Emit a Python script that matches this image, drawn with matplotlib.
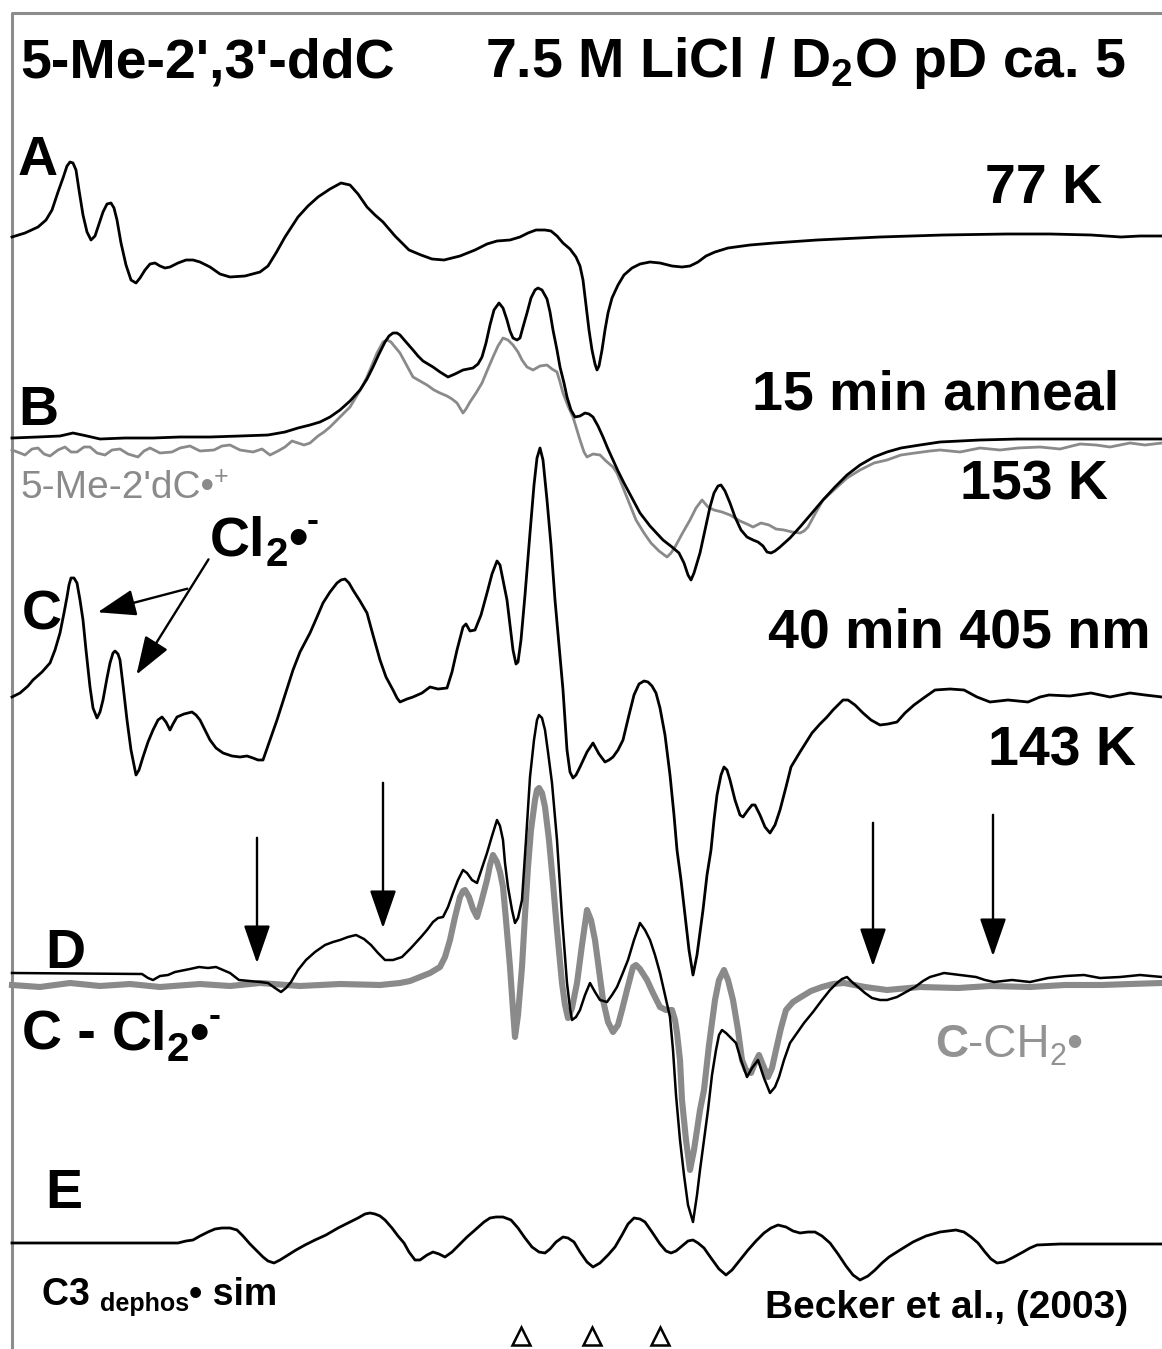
import numpy as np
import matplotlib
matplotlib.use("Agg")
import matplotlib.pyplot as plt

plt.rcParams['font.family'] = ['Liberation Sans', 'DejaVu Sans']
plt.rcParams['mathtext.fontset'] = 'custom'
plt.rcParams['mathtext.rm'] = 'Liberation Sans:bold'
plt.rcParams['mathtext.bf'] = 'Liberation Sans:bold'
plt.rcParams['mathtext.sf'] = 'Liberation Sans'

# --- traced spectra (x = field position, y = panel position, picture units) ---
a_x = [12, 25, 38, 46, 52, 58, 63, 67, 70, 73, 76, 79, 83, 87, 91, 95, 99, 103, 107, 111, 114, 117, 121,
       126, 131, 136, 140, 145, 150, 155, 160, 165, 170, 178, 186, 193, 200, 210, 220, 230, 245, 260, 268,
       276, 285, 298, 308, 318, 330, 341, 350, 358, 367, 375, 383, 395, 409, 421, 432, 444, 460, 475, 487,
       497, 510, 520, 528, 536, 545, 551, 557, 563, 570, 576, 580, 583, 586, 589, 592, 595, 597, 599, 602,
       605, 608, 612, 618, 624, 632, 640, 650, 660, 672, 682, 690, 698, 706, 715, 728, 750, 774, 817, 880,
       943, 1007, 1050, 1091, 1121, 1140, 1162]
a_y = [237, 233, 227, 220, 210, 192, 178, 166, 162, 163, 170, 190, 215, 232, 240, 236, 224, 212, 204, 203,
       208, 220, 243, 265, 280, 283, 278, 270, 264, 263, 266, 268, 267, 263, 260, 260, 262, 267, 274, 277,
       276, 272, 266, 253, 237, 217, 206, 197, 189, 183, 185, 194, 207, 215, 222, 236, 250, 255, 259, 260,
       256, 250, 244, 241, 240, 237, 233, 230, 230, 231, 236, 243, 249, 257, 266, 280, 305, 330, 350, 364,
       370, 366, 350, 330, 313, 298, 285, 275, 268, 264, 262, 263, 266, 267, 266, 262, 256, 252, 248, 245,
       243, 240, 237, 235, 234, 234, 235, 237, 236, 236]

b_x = [12, 38, 60, 73, 87, 100, 125, 153, 180, 210, 240, 268, 285, 298, 310, 320, 330, 340, 350, 360, 367,
       373, 379, 385, 389, 393, 397, 400, 406, 413, 418, 423, 433, 440, 448, 455, 463, 473, 478, 482, 486,
       490, 494, 499, 503, 507, 510, 513, 517, 520, 523, 527, 531, 535, 538, 542, 547, 550, 553, 557, 560,
       564, 567, 571, 575, 580, 585, 589, 593, 598, 603, 608, 613, 618, 624, 632, 640, 650, 663, 672, 679,
       684, 688, 691, 694, 697, 700, 705, 710, 714, 718, 721, 725, 730, 735, 741, 747, 753, 758, 763, 767,
       771, 775, 780, 790, 800, 812, 823, 835, 847, 860, 874, 887, 901, 920, 940, 980, 1018, 1100, 1162]
b_y = [438, 437, 436, 433, 436, 439, 438, 438, 437, 437, 436, 435, 432, 428, 425, 422, 417, 410, 401, 390,
       379, 367, 354, 342, 336, 333, 333, 335, 342, 350, 356, 361, 367, 372, 377, 374, 370, 368, 364, 357,
       343, 325, 310, 303, 308, 320, 331, 338, 340, 338, 327, 313, 298, 290, 288, 290, 299, 312, 330, 350,
       367, 383, 397, 410, 417, 416, 413, 414, 417, 426, 437, 449, 460, 471, 483, 498, 513, 526, 540, 547,
       553, 563, 575, 580, 573, 563, 553, 530, 507, 493, 486, 485, 491, 503, 517, 530, 537, 540, 542, 546,
       552, 553, 551, 547, 538, 527, 513, 500, 487, 475, 465, 457, 452, 448, 445, 442, 440, 439, 439, 439]

bref_x = [12, 20, 25, 32, 38, 44, 50, 58, 65, 71, 77, 84, 90, 97, 105, 112, 120, 128, 138, 144, 150, 160,
          172, 180, 190, 200, 214, 222, 230, 240, 253, 262, 270, 278, 285, 292, 298, 304, 310, 318, 324, 330,
          337, 343, 350, 356, 362, 367, 372, 377, 383, 387, 391, 395, 400, 406, 413, 420, 427, 434, 440, 447,
          452, 457, 460, 463, 466, 470, 476, 482, 487, 493, 498, 503, 508, 513, 518, 522, 527, 533, 540, 547,
          552, 557, 560, 563, 568, 573, 577, 580, 584, 587, 593, 600, 606, 613, 617, 620, 628, 636, 644, 651,
          659, 667, 671, 675, 682, 690, 696, 702, 708, 714, 722, 730, 740, 747, 753, 761, 769, 776, 784, 792,
          800, 804, 808, 815, 823, 835, 847, 860, 874, 887, 901, 915, 930, 940, 960, 980, 1000, 1018, 1040,
          1060, 1080, 1096, 1110, 1130, 1145, 1162]
bref_y = [450, 453, 455, 449, 448, 454, 456, 450, 447, 452, 452, 447, 447, 453, 455, 450, 449, 454, 457, 451,
          448, 453, 452, 448, 446, 451, 450, 446, 445, 450, 452, 449, 455, 451, 447, 441, 443, 445, 443, 436,
          432, 427, 420, 414, 407, 397, 387, 377, 365, 353, 342, 340, 342, 347, 353, 364, 377, 381, 385, 390,
          393, 396, 399, 403, 408, 413, 409, 402, 393, 383, 371, 357, 346, 338, 340, 345, 352, 360, 367, 370,
          366, 365, 369, 372, 382, 393, 406, 417, 430, 440, 452, 457, 454, 455, 461, 467, 473, 480, 500, 520,
          533, 543, 551, 557, 553, 547, 534, 520, 508, 500, 507, 510, 512, 515, 521, 524, 527, 523, 525, 529,
          530, 532, 533, 531, 527, 514, 500, 489, 478, 470, 463, 460, 455, 453, 451, 450, 452, 448, 450, 448,
          447, 449, 444, 445, 447, 443, 445, 443]

c_x = [12, 20, 28, 33, 42, 50, 55, 60, 64, 67, 69, 71, 74, 77, 80, 83, 86, 90, 93, 97, 100, 103, 107, 110,
       113, 115, 118, 120, 123, 127, 131, 136, 139, 143, 148, 153, 158, 162, 166, 170, 173, 177, 184, 192,
       196, 200, 205, 210, 216, 223, 232, 240, 247, 253, 258, 263, 270, 277, 285, 293, 300, 310, 317, 323,
       330, 337, 341, 345, 349, 353, 360, 367, 373, 380, 386, 393, 397, 400, 407, 413, 422, 430, 438, 447,
       452, 457, 463, 466, 470, 475, 481, 487, 492, 497, 500, 504, 507, 510, 513, 516, 518, 521, 525, 530,
       534, 537, 540, 543, 547, 551, 555, 559, 563, 567, 570, 573, 576, 580, 587, 593, 599, 605, 609, 613,
       618, 623, 629, 634, 639, 644, 648, 652, 656, 660, 665, 670, 674, 677, 681, 685, 689, 693, 697, 703,
       707, 711, 714, 717, 721, 724, 727, 730, 735, 740, 743, 748, 752, 755, 760, 765, 770, 775, 780, 786,
       791, 800, 812, 820, 827, 833, 838, 843, 848, 855, 863, 871, 880, 888, 897, 905, 914, 925, 935, 950,
       964, 977, 990, 1008, 1028, 1040, 1049, 1070, 1091, 1110, 1130, 1145, 1162]
c_y = [697, 693, 686, 680, 672, 663, 650, 633, 613, 597, 585, 578, 578, 583, 600, 620, 650, 687, 708, 718,
       712, 700, 678, 663, 653, 651, 654, 660, 685, 720, 750, 775, 770, 757, 742, 730, 720, 717, 722, 730,
       724, 717, 714, 712, 715, 720, 730, 740, 748, 753, 756, 757, 756, 758, 760, 760, 740, 720, 695, 670,
       652, 633, 617, 603, 592, 583, 580, 579, 583, 590, 601, 613, 635, 660, 677, 690, 698, 702, 699, 697,
       693, 687, 689, 688, 672, 650, 627, 624, 631, 630, 615, 593, 574, 561, 565, 585, 600, 625, 650, 664,
       662, 640, 595, 533, 485, 458, 448, 460, 500, 545, 600, 645, 690, 750, 772, 778, 775, 767, 752, 743,
       754, 762, 760, 757, 750, 740, 715, 695, 684, 681, 682, 686, 693, 708, 735, 775, 815, 850, 880, 915,
       950, 975, 955, 910, 875, 850, 820, 795, 775, 767, 770, 780, 800, 815, 817, 810, 805, 805, 815, 827,
       833, 825, 810, 787, 767, 752, 733, 724, 717, 710, 705, 700, 700, 705, 713, 720, 725, 724, 722, 713,
       705, 697, 690, 689, 690, 697, 702, 700, 702, 697, 695, 696, 693, 697, 693, 695, 697]

d_x = [12, 142, 148, 153, 160, 168, 175, 180, 190, 199, 208, 216, 223, 230, 239, 250, 260, 268, 275, 281,
       286, 291, 298, 306, 315, 325, 333, 340, 348, 356, 364, 371, 378, 385, 393, 402, 411, 421, 427, 433,
       438, 443, 448, 453, 458, 463, 467, 472, 477, 482, 487, 492, 497, 500, 503, 505, 508, 512, 515, 518,
       522, 526, 530, 534, 537, 539, 542, 545, 548, 552, 557, 562, 567, 570, 572, 576, 580, 585, 590, 595,
       600, 607, 612, 617, 622, 628, 634, 640, 645, 650, 655, 660, 665, 670, 673, 676, 680, 684, 688, 693,
       697, 700, 704, 708, 712, 716, 719, 722, 726, 731, 736, 741, 747, 752, 758, 764, 770, 775, 779, 784,
       790, 797, 804, 813, 822, 830, 837, 842, 847, 852, 858, 865, 872, 880, 887, 897, 906, 915, 923, 930,
       937, 944, 960, 976, 985, 994, 1012, 1030, 1048, 1066, 1084, 1100, 1120, 1140, 1162]
d_y = [973, 974, 978, 980, 976, 975, 972, 971, 969, 967, 968, 967, 970, 973, 980, 981, 982, 983, 988, 992,
       988, 982, 970, 960, 952, 945, 942, 940, 937, 935, 939, 945, 953, 960, 960, 957, 948, 937, 930, 922,
       918, 917, 907, 893, 880, 870, 873, 880, 883, 868, 853, 836, 820, 826, 840, 863, 887, 910, 923, 918,
       900, 840, 777, 740, 720, 715, 718, 730, 752, 783, 840, 917, 983, 1008, 1020, 1017, 1010, 995, 983, 992,
       1000, 1002, 995, 987, 975, 960, 940, 923, 930, 940, 955, 973, 995, 1017, 1050, 1095, 1140, 1175, 1205,
       1222, 1195, 1170, 1140, 1110, 1075, 1050, 1035, 1030, 1033, 1038, 1043, 1060, 1077, 1068, 1060, 1078,
       1093, 1087, 1077, 1060, 1043, 1033, 1023, 1012, 1000, 990, 983, 979, 977, 982, 987, 993, 998, 1000,
       1000, 997, 992, 987, 981, 977, 975, 973, 975, 977, 980, 982, 980, 982, 978, 976, 975, 978, 977, 975, 977]

dsim_x = [12, 40, 70, 100, 130, 160, 200, 230, 260, 300, 340, 380, 400, 410, 420, 430, 440, 445, 450, 455,
          460, 463, 465, 469, 473, 477, 481, 487, 490, 493, 497, 500, 503, 506, 510, 513, 515, 518, 522, 525,
          528, 531, 535, 537, 539, 542, 545, 549, 553, 557, 562, 565, 568, 572, 577, 582, 587, 591, 595, 599,
          603, 608, 613, 618, 622, 627, 633, 636, 640, 647, 653, 660, 666, 672, 675, 677, 680, 682, 686, 690,
          694, 697, 700, 704, 709, 715, 719, 724, 728, 733, 738, 742, 746, 751, 755, 759, 763, 768, 772, 776,
          781, 786, 793, 801, 811, 822, 833, 844, 865, 887, 920, 958, 990, 1030, 1065, 1102, 1130, 1162]
dsim_y = [985, 987, 983, 986, 984, 987, 984, 986, 983, 986, 984, 985, 983, 981, 977, 973, 967, 957, 940, 917,
          897, 891, 890, 897, 909, 917, 903, 880, 865, 855, 862, 872, 887, 920, 967, 1010, 1037, 1015, 967,
          915, 867, 830, 800, 790, 788, 793, 807, 840, 883, 930, 983, 1005, 1018, 1008, 983, 945, 910, 920,
          940, 970, 1000, 1022, 1032, 1025, 1010, 990, 967, 965, 969, 980, 993, 1007, 1010, 1010, 1020, 1033,
          1060, 1100, 1140, 1170, 1150, 1130, 1110, 1090, 1045, 1000, 980, 970, 980, 1000, 1030, 1060, 1070,
          1073, 1063, 1055, 1065, 1077, 1068, 1050, 1028, 1010, 1002, 997, 991, 987, 984, 983, 987, 990, 987,
          988, 986, 987, 985, 985, 984, 983]

e_x = [12, 178, 186, 193, 200, 208, 215, 222, 230, 237, 243, 250, 256, 263, 268, 274, 280, 288, 296, 305,
       315, 326, 338, 348, 358, 365, 370, 375, 380, 385, 392, 398, 404, 409, 415, 420, 427, 433, 439, 445,
       452, 460, 467, 475, 484, 490, 496, 503, 511, 518, 525, 532, 539, 545, 550, 556, 563, 568, 574, 580,
       587, 593, 600, 608, 615, 622, 628, 634, 640, 645, 652, 660, 666, 671, 676, 682, 688, 693, 698, 704,
       711, 719, 726, 732, 740, 748, 756, 764, 771, 778, 786, 793, 800, 808, 815, 822, 830, 838, 846, 853,
       860, 868, 875, 882, 889, 900, 913, 926, 940, 956, 964, 971, 978, 985, 991, 997, 1004, 1012, 1023,
       1030, 1037, 1060, 1082, 1162]
e_y = [1243, 1243, 1241, 1240, 1236, 1232, 1229, 1228, 1228, 1230, 1236, 1244, 1250, 1257, 1261, 1263, 1260,
       1255, 1250, 1245, 1240, 1235, 1228, 1223, 1218, 1214, 1213, 1214, 1216, 1220, 1228, 1236, 1243, 1252,
       1260, 1260, 1255, 1252, 1254, 1257, 1252, 1244, 1237, 1230, 1222, 1218, 1217, 1217, 1220, 1228, 1238,
       1247, 1252, 1253, 1249, 1242, 1237, 1238, 1242, 1252, 1262, 1267, 1263, 1255, 1247, 1235, 1224, 1218,
       1219, 1222, 1232, 1244, 1251, 1253, 1251, 1246, 1241, 1240, 1243, 1248, 1258, 1269, 1275, 1270, 1260,
       1250, 1241, 1233, 1228, 1225, 1227, 1231, 1233, 1232, 1232, 1236, 1243, 1254, 1266, 1275, 1280, 1276,
       1270, 1263, 1257, 1250, 1242, 1236, 1232, 1230, 1232, 1237, 1243, 1252, 1259, 1263, 1262, 1258, 1252,
       1248, 1245, 1244, 1244, 1244]

tri_x = [521, 592, 660]
tri_y = [1336, 1336, 1336]

# vertical marker arrows in D: (x, top, tip)
varrows = [(257, 835, 966), (383, 780, 931), (873, 820, 969), (993, 812, 959)]

black = 'black'
gray = '#8a8a8a'

fig = plt.figure(figsize=(11.62, 13.49), dpi=100)
ax = fig.add_axes([0, 0, 1, 1])
ax.set_xlim(0, 1162)
ax.set_ylim(1349, 0)
ax.axis('off')
renderer = fig.canvas.get_renderer()


def chain(x, y, parts, color='black'):
    # parts: (text, fontsize, weight, dy) ; dy > 0 moves down
    for s, fs, wt, dy in parts:
        t = ax.text(x, y + dy, s, fontsize=fs, fontweight=wt, color=color, va='baseline', ha='left')
        x += t.get_window_extent(renderer).width


# frame
ax.plot([12, 12, 1162], [1349, 13, 13], color='#8c8c8c', lw=2.2, solid_capstyle='butt')

ax.plot(a_x, a_y, color=black, lw=2.0)
ax.plot(bref_x, bref_y, color=gray, lw=2.0)
ax.plot(b_x, b_y, color=black, lw=2.0)
ax.plot(c_x, c_y, color=black, lw=2.0)
ax.plot(dsim_x, dsim_y, color=gray, lw=4.4, zorder=2)
ax.plot(d_x, d_y, color=black, lw=1.8, zorder=3)
ax.plot(e_x, e_y, color=black, lw=2.0)
ax.plot(tri_x, tri_y, ls='none', marker='^', ms=13, mfc='white', mec='black', mew=1.8)

head = dict(arrowstyle='-|>,head_length=0.95,head_width=0.33', color='black', lw=1.7, mutation_scale=25)
for x, y0, y1 in varrows:
    ax.annotate('', xy=(x, y1), xytext=(x, y0), arrowprops=head)

# Cl2 arrows
ax.annotate('', xy=(135, 677), xytext=(210, 557), arrowprops=head)
ax.annotate('', xy=(95, 613), xytext=(190, 588), arrowprops=head)

big = 40
bold = dict(fontsize=big, fontweight='bold', va='baseline', ha='left', color='black')
ax.text(20, 77, "5-Me-2',3'-ddC", **bold)
ax.text(485, 77, r"7.5 M LiCl / D$_\mathrm{2}$O pD ca. 5", **bold)
ax.text(18, 175, "A", **bold)
ax.text(985, 203, "77 K", **bold)
ax.text(752, 410, "15 min anneal", **bold)
ax.text(18, 425, "B", **bold)
ax.text(960, 500, "153 K", **bold)
ax.text(22, 630, "C", **bold)
ax.text(768, 647, "40 min 405 nm", **bold)
ax.text(988, 765, "143 K", **bold)
ax.text(45, 968, "D", **bold)
ax.text(45, 1208, "E", **bold)

cl2 = [("Cl", big, 'bold', 0), ("2", 29, 'bold', 11), ("•", big, 'bold', 0), ("-", 26, 'bold', -24)]
chain(210, 555, cl2)
chain(22, 1050, [("C - ", big, 'bold', 0)] + cl2)

chain(20, 498, [("5-Me-2'dC•", 28, 'normal', 0), ("+", 18, 'normal', -14)], color=gray)
chain(935, 1057, [("C", 33, 'bold', 0), ("-CH", 33, 'normal', 0), ("2", 22, 'normal', 8),
                  ("•", 33, 'normal', 0)], color='#939393')
chain(42, 1305, [("C3 ", 27, 'bold', 0), ("dephos", 18, 'bold', 6), ("• sim", 27, 'bold', 0)])
ax.text(765, 1318, "Becker et al., (2003)", fontsize=28, fontweight='bold', va='baseline')

fig.savefig('out.png', dpi=100)
